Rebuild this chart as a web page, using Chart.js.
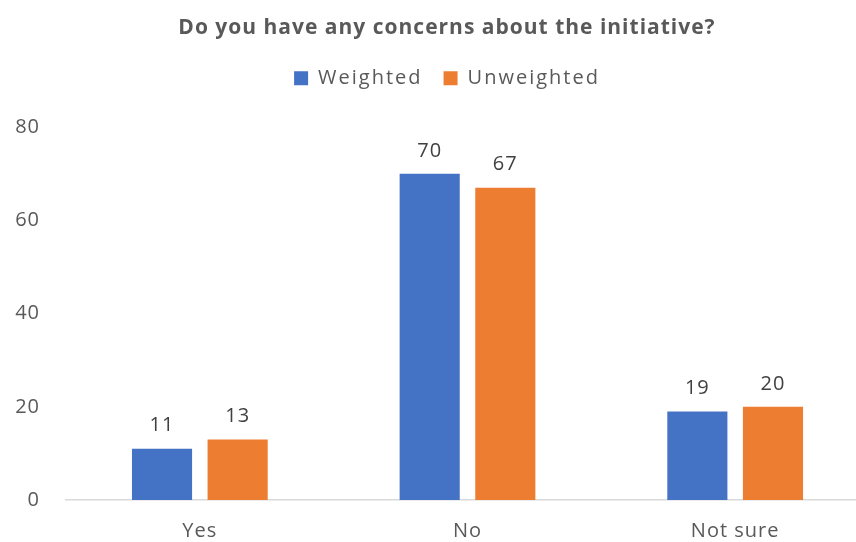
<!DOCTYPE html>
<html>
<head>
<meta charset="utf-8">
<script src="https://cdn.jsdelivr.net/npm/chart.js@4.4.0/dist/chart.umd.min.js"></script>
<style>
  html, body { margin: 0; padding: 0; background: #fff; overflow: hidden; }
  #wrap { width: 894px; height: 542px; }
</style>
</head>
<body>
<div id="wrap"><canvas id="concernsChart"></canvas></div>
<script>
const categories = ["Yes", "No", "Not sure"]
const weighted = [11, 70, 19]
const unweighted = [13, 67, 20]
const yTicks = [0, 20, 40, 60, 80]

const FONT = "'Open Sans', 'Noto Sans', sans-serif"

// the reference text is a bit spaced out
const spacing = {
    id: "spacing",
    beforeLayout(chart) { chart.ctx.letterSpacing = "1px" },
    beforeDraw(chart) { chart.ctx.letterSpacing = "1px" },
}

// legend: wider spacing and extra room underneath
const legendTweak = {
    id: "legendTweak",
    beforeInit(chart) {
        const legend = chart.legend
        const fit = legend.fit
        const draw = legend.draw
        legend.fit = function () {
            chart.ctx.letterSpacing = "2px"
            fit.bind(legend)()
            chart.ctx.letterSpacing = "1px"
            this.height += 29
        }
        legend.draw = function () {
            chart.ctx.letterSpacing = "2px"
            draw.bind(legend)()
            chart.ctx.letterSpacing = "1px"
        }
    }
}

// value labels above each bar
const barLabels = {
    id: "barLabels",
    afterDatasetsDraw(chart) {
        const ctx = chart.ctx
        ctx.save()
        ctx.font = "20px " + FONT
        ctx.fillStyle = "#404040"
        ctx.textAlign = "center"
        ctx.textBaseline = "middle"
        chart.data.datasets.forEach((ds, i) => {
            chart.getDatasetMeta(i).data.forEach((bar, j) => {
                ctx.fillText(ds.data[j], bar.x, bar.y - 23)
            })
        })
        ctx.restore()
    }
}

const ctx = document.getElementById("concernsChart").getContext("2d")
new Chart(ctx, {
    type: "bar",
    data: {
        labels: categories,
        datasets: [
            {
                label: "Weighted",
                data: weighted,
                backgroundColor: "#4472C4",
                categoryPercentage: 0.565,
                barPercentage: 0.795,
            },
            {
                label: "Unweighted",
                data: unweighted,
                backgroundColor: "#ED7D31",
                categoryPercentage: 0.565,
                barPercentage: 0.795,
            },
        ],
    },
    options: {
        responsive: true,
        maintainAspectRatio: false,
        animation: false,
        layout: { padding: 0 },
        plugins: {
            title: {
                display: true,
                text: "Do you have any concerns about the initiative?",
                color: "#595959",
                font: { family: FONT, size: 21, weight: "bold" },
                padding: { top: 15, bottom: 7 },
            },
            legend: {
                position: "top",
                labels: {
                    color: "#595959",
                    font: { family: FONT, size: 20 },
                    boxWidth: 14,
                    boxHeight: 14,
                    padding: 21,
                },
            },
            tooltip: { enabled: false },
        },
        scales: {
            x: {
                afterFit: (axis) => { axis.height = 42 },
                grid: { display: false, drawTicks: false },
                border: { color: "#D9D9D9", width: 1.5 },
                ticks: {
                    color: "#595959",
                    font: { family: FONT, size: 20 },
                    padding: 19,
                },
            },
            y: {
                min: 0,
                max: 80,
                afterBuildTicks: (axis) => { axis.ticks = yTicks.map((v) => ({ value: v })) },
                afterFit: (axis) => { axis.width = 66 },
                grid: { display: false, drawTicks: false },
                border: { display: false },
                ticks: {
                    color: "#595959",
                    font: { family: FONT, size: 20 },
                    padding: 26,
                },
            },
            // empty axis, only keeps a right margin for the plot
            yRight: {
                position: "right",
                afterFit: (axis) => { axis.width = 25 },
                grid: { display: false, drawTicks: false },
                border: { display: false },
                ticks: { display: false },
            },
        },
    },
    plugins: [spacing, legendTweak, barLabels],
})
</script>
</body>
</html>
